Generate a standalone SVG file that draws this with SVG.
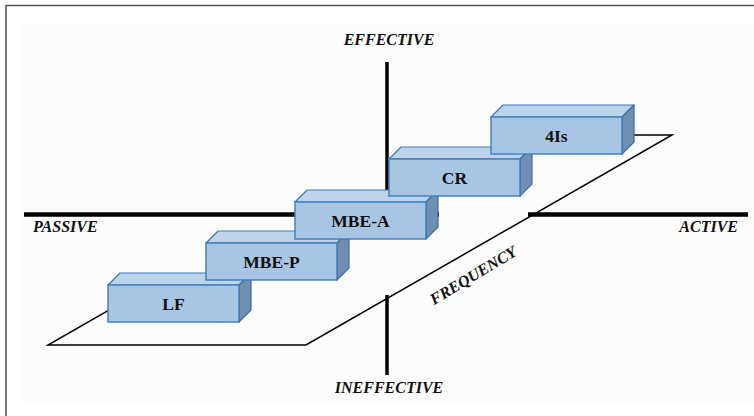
<svg xmlns="http://www.w3.org/2000/svg" width="754" height="416" viewBox="0 0 754 416">
<defs>
<style>
.front{fill:#a8c6e4;stroke:#3b7cbc;stroke-width:1.4}
.top{fill:#bcd3ea;stroke:#3b7cbc;stroke-width:1.2;stroke-linejoin:round}
.side{fill:#6f8fb2;stroke:#3b6f9f;stroke-width:1.2;stroke-linejoin:round}
.lbl{font-family:"Liberation Serif","Times New Roman",serif;font-weight:bold;font-size:17.5px;text-anchor:middle;fill:#111}
.ax{font-family:"Liberation Serif","Times New Roman",serif;font-weight:bold;font-style:italic;font-size:16px;fill:#111}
.axis{stroke:#000;fill:none}
</style>
</defs>
<rect width="754" height="416" fill="#ffffff"/>
<rect x="21" y="23" width="733" height="379" fill="#fcfcfc"/>
<path d="M6,416 V5.5 H754" fill="none" stroke="#555" stroke-width="1.6"/>
<g id="connectors">
<polyline class="axis" stroke-width="1.5" points="108,310.6 48,345 306,345 672,135 634,135"/>
<line class="axis" x1="24" y1="214.5" x2="439" y2="214.5" stroke-width="4.5"/>
<line class="axis" x1="528" y1="214.5" x2="748" y2="214.5" stroke-width="4.5"/>
<line class="axis" x1="387" y1="62" x2="387" y2="200" stroke-width="3.5"/>
<line class="axis" x1="387" y1="295" x2="387" y2="375" stroke-width="3.5"/>
</g>
<g id="labels">
<text class="ax" x="389" y="45" text-anchor="middle">EFFECTIVE</text>
<text class="ax" x="389" y="393" text-anchor="middle">INEFFECTIVE</text>
<text class="ax" x="33" y="232">PASSIVE</text>
<text class="ax" x="738" y="232" text-anchor="end">ACTIVE</text>
<text class="ax" x="476" y="280" text-anchor="middle" font-size="16" transform="rotate(-31 476 280)">FREQUENCY</text>
</g>
<g id="node-LF" transform="translate(108,285)">
<polygon class="top" points="0,0 12,-12 143,-12 131,0"/>
<polygon class="side" points="131,0 143,-12 143,25 131,37"/>
<rect class="front" x="0" y="0" width="131" height="37"/>
<text class="lbl" x="65.5" y="25">LF</text>
</g>
<g id="node-MBE-P" transform="translate(206,243)">
<polygon class="top" points="0,0 12,-12 143,-12 131,0"/>
<polygon class="side" points="131,0 143,-12 143,25 131,37"/>
<rect class="front" x="0" y="0" width="131" height="37"/>
<text class="lbl" x="65.5" y="25">MBE-P</text>
</g>
<g id="node-MBE-A" transform="translate(295,202)">
<polygon class="top" points="0,0 12,-12 143,-12 131,0"/>
<polygon class="side" points="131,0 143,-12 143,25 131,37"/>
<rect class="front" x="0" y="0" width="131" height="37"/>
<text class="lbl" x="65.5" y="25">MBE-A</text>
</g>
<g id="node-CR" transform="translate(389,159)">
<polygon class="top" points="0,0 12,-12 143,-12 131,0"/>
<polygon class="side" points="131,0 143,-12 143,25 131,37"/>
<rect class="front" x="0" y="0" width="131" height="37"/>
<text class="lbl" x="65.5" y="25">CR</text>
</g>
<g id="node-4Is" transform="translate(491,117)">
<polygon class="top" points="0,0 12,-12 143,-12 131,0"/>
<polygon class="side" points="131,0 143,-12 143,25 131,37"/>
<rect class="front" x="0" y="0" width="131" height="37"/>
<text class="lbl" x="65.5" y="25">4Is</text>
</g>
</svg>
